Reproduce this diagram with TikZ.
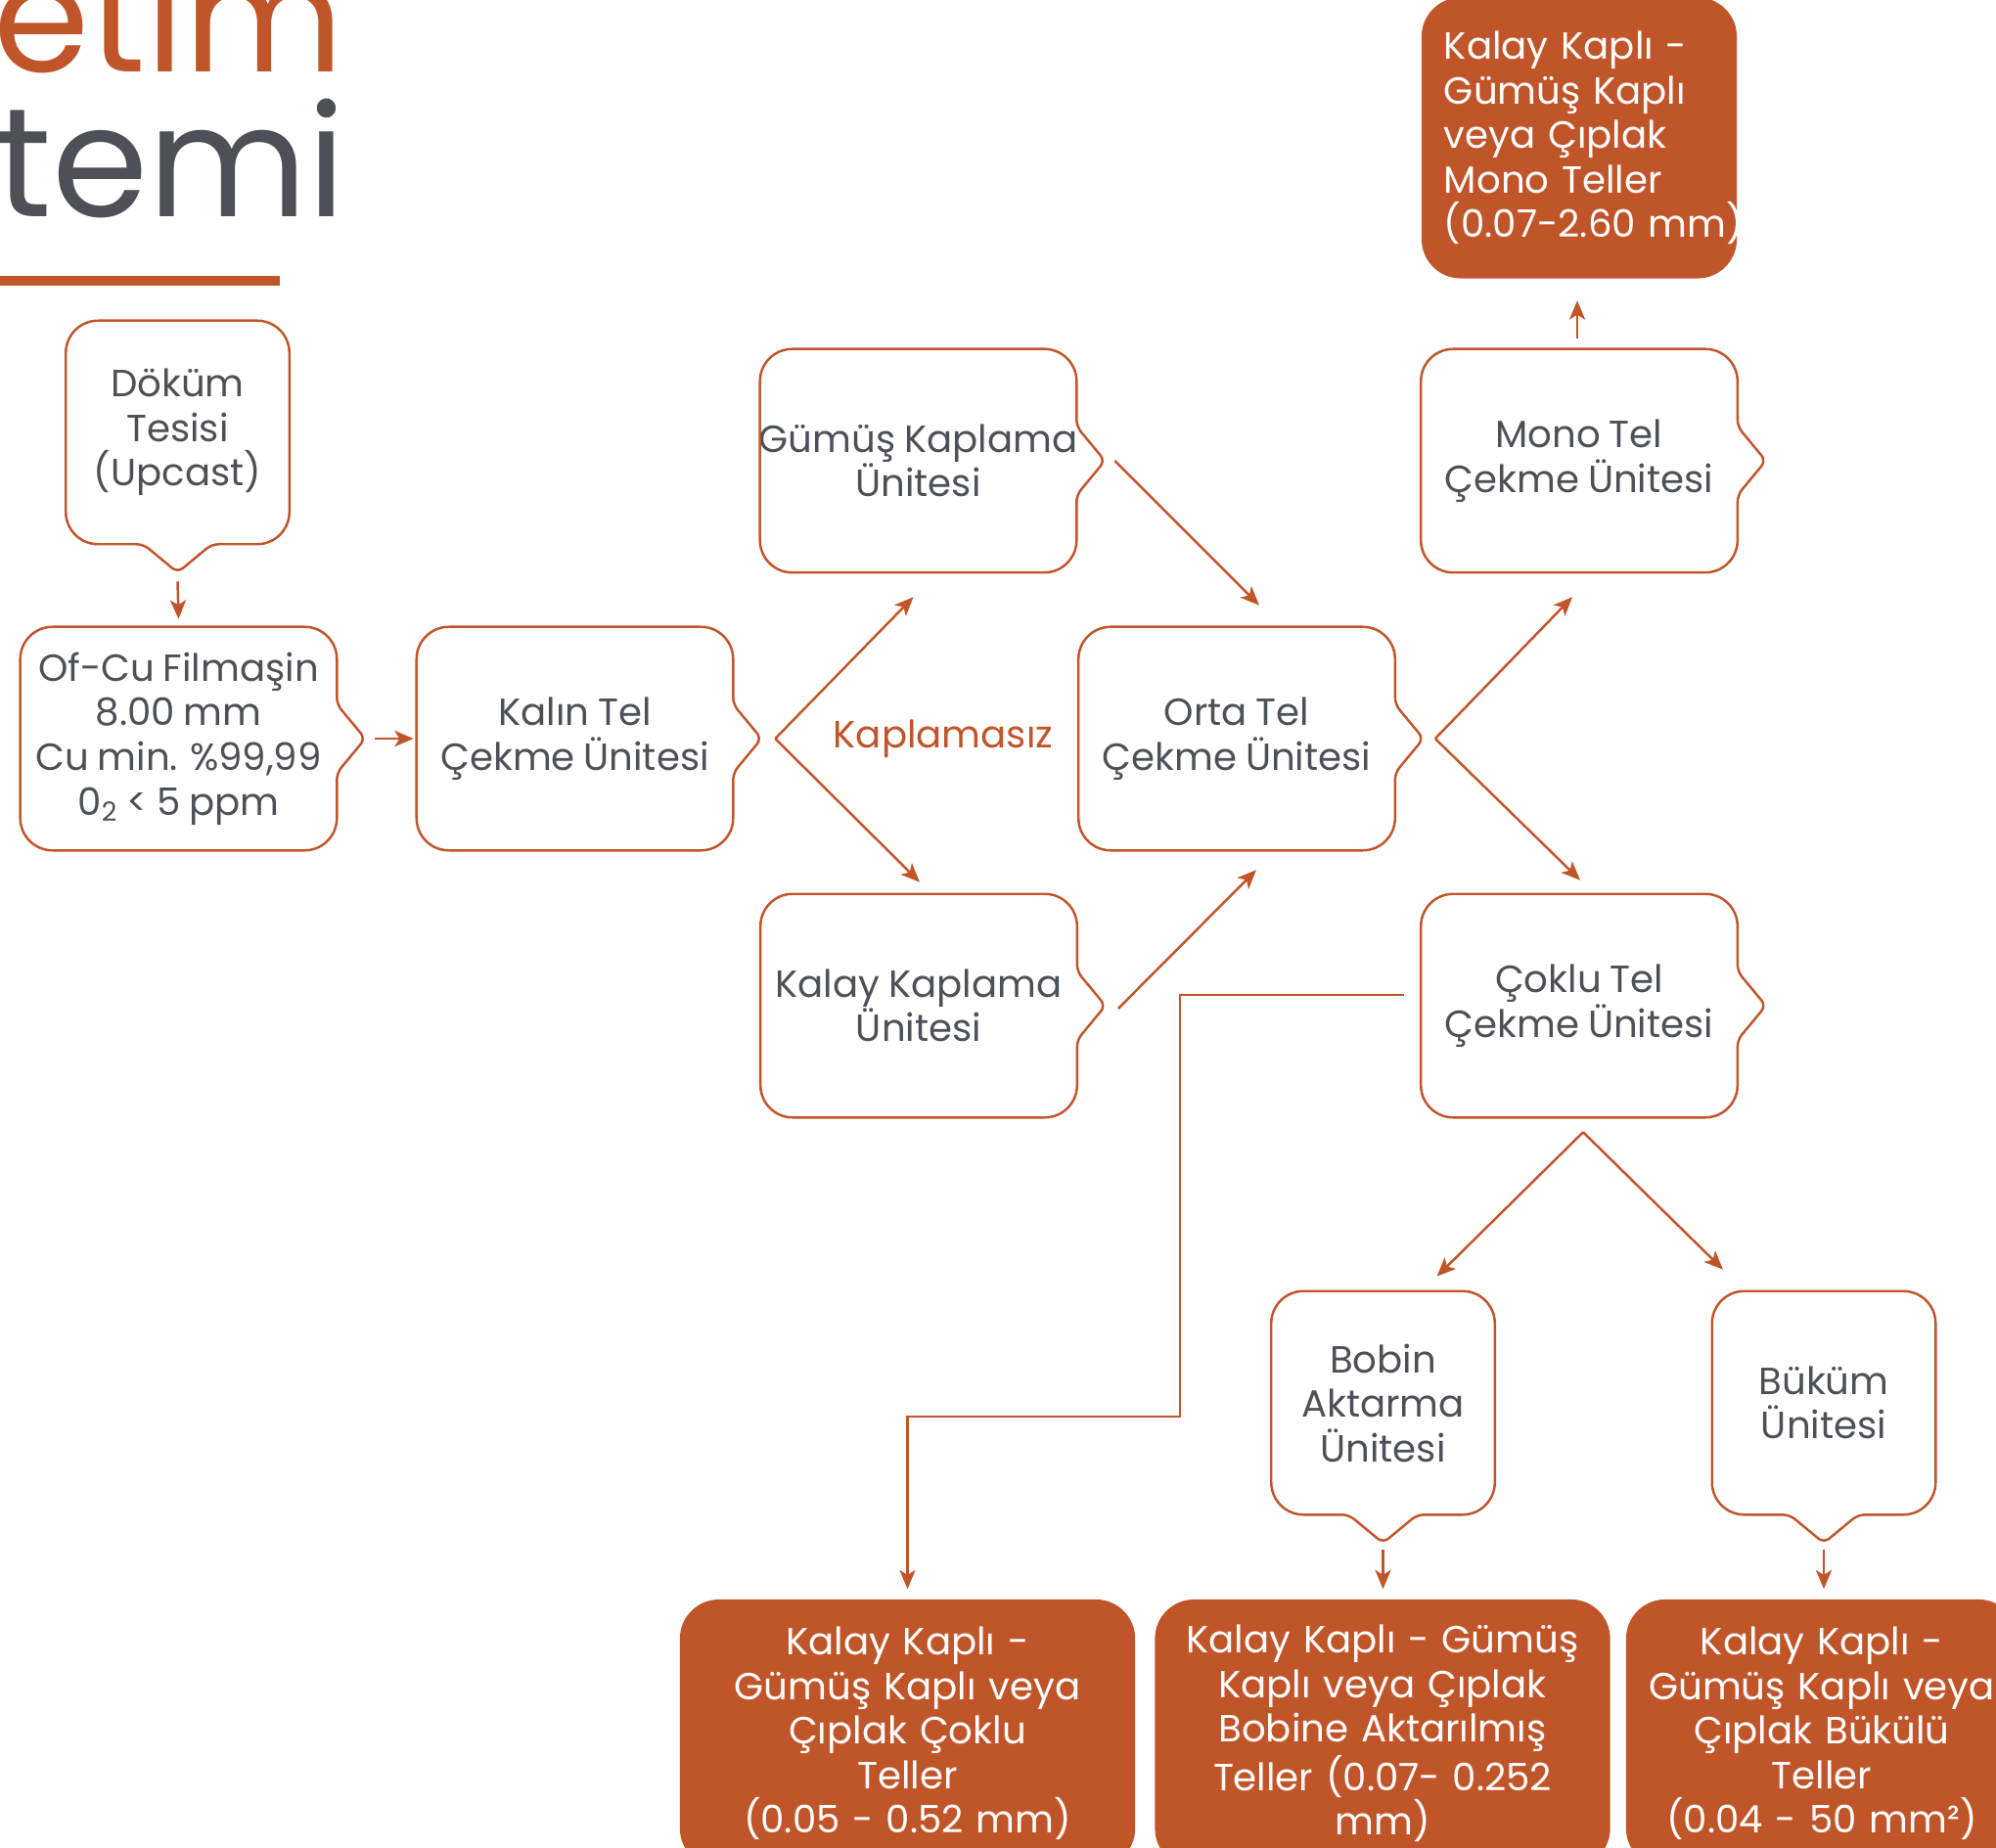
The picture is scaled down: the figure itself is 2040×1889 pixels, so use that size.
\documentclass[tikz,border=0pt]{standalone}
\usepackage{fontspec}
\setmainfont{Poppins}[WordSpace=0.85]
\usetikzlibrary{positioning,arrows.meta}
\definecolor{rust}{HTML}{C1552A}
\definecolor{slate}{HTML}{4D5157}
\newcommand\unitfont{\fontsize{11pt}{12.95pt}\selectfont}
\newcommand\titlefont{\fontsize{45pt}{45pt}\selectfont}
\tikzset{
    >={Stealth[length=5.5pt,width=4.6pt,inset=1.4pt]},
    unit/.style = {minimum width=3.22cm, minimum height=2.27cm, inner sep=0pt,
        align=center, text=slate, font=\unitfont},
    narrow/.style = {unit, minimum width=2.27cm},
    frame/.style = {draw=rust, line width=0.7pt, rounded corners=0.33cm},
    product/.style = {fill=rust, rounded corners=0.4cm, text=white,
        font=\unitfont, inner ysep=0pt, inner xsep=0.225cm},
    flow/.style = {draw=rust, line width=0.7pt, ->},
}

\begin{document}
\begin{tikzpicture}[x=0.01cm, y=-0.01cm]
    \useasboundingbox (0,0) rectangle (2040,1889);

    \node[anchor=base east, text=rust, font=\titlefont, inner sep=0pt] (titletop) at (352,74) {etim};
    \node[anchor=base east, text=slate, font=\titlefont, inner sep=0pt] (titlebot) at (354,222) {temi};
    \fill[rust] (0,282) rectangle (286,292);

    \node[narrow] (dokum) at (181.5,442) {Döküm\\Tesisi\\(Upcast)};
    \node[unit] (ofcu) at (182.5,755) {Of-Cu Filmaşin\\8.00 mm\\Cu min. \%99,99\\0\textsubscript{2} < 5 ppm};
    \node[unit] (kalin) at (587.5,755) {Kalın Tel\\Çekme Ünitesi};
    \node[unit] (gumus) at (938.5,471) {\makebox[3.22cm]{Gümüş Kaplama}\\Ünitesi};
    \node[unit] (kalay) at (939,1028) {\makebox[3.22cm]{Kalay Kaplama}\\Ünitesi};
    \node[unit] (orta) at (1264,755) {Orta Tel\\Çekme Ünitesi};
    \node[unit] (mono) at (1614,471) {Mono Tel\\Çekme Ünitesi};
    \node[unit] (coklu) at (1614,1028) {Çoklu Tel\\Çekme Ünitesi};
    \node[narrow] (bobin) at (1413.5,1434) {Bobin\\Aktarma\\Ünitesi};
    \node[narrow] (bukum) at (1864,1434) {Büküm\\Ünitesi};

    \node[text=rust, font=\unitfont] (bare) at (964,755) {Kaplamasız};

    \foreach \n in {ofcu,kalin,gumus,kalay,orta,mono,coklu}
        \draw[frame] (\n.north) -- (\n.north east) [rounded corners=2pt] -- ([shift={(0,-35)}]\n.east)
            -- ++(29,35) -- ++(-29,35)
            [rounded corners=0.33cm] -- (\n.south east) -- (\n.south west) -- (\n.north west) -- cycle;
    \foreach \n in {dokum,bobin,bukum}
        \draw[frame] (\n.north) -- (\n.north east) -- (\n.south east) [rounded corners=2pt] -- ([shift={(35,0)}]\n.south)
            -- ++(-35,29) -- ++(-35,-29)
            [rounded corners=0.33cm] -- (\n.south west) -- (\n.north west) -- cycle;

    \node[product, align=left, text width=2.76cm, inner xsep=0.23cm, minimum height=2.87cm] (monoout) at (1614,141)
        {Kalay Kaplı -\\Gümüş Kaplı\\veya Çıplak\\Mono Teller\\\mbox{(0.07-2.60 mm)}};
    \node[product, align=center, text width=4.2cm, minimum height=2.74cm] (cokluout) at (927.5,1772)
        {Kalay Kaplı -\\Gümüş Kaplı veya\\Çıplak Çoklu\\Teller\\(0.05 - 0.52 mm)};
    \node[product, align=center, text width=4.2cm, minimum height=2.74cm] (bobinout) at (1413,1772)
        {Kalay Kaplı - Gümüş\\Kaplı veya Çıplak\\Bobine Aktarılmış\\Teller (0.07- 0.252\\mm)};
    \node[product, align=center, text width=3.9cm, inner xsep=0.05cm, minimum height=2.74cm] (bukumout) at (1862,1772)
        {Kalay Kaplı -\\Gümüş Kaplı veya\\Çıplak Bükülü\\Teller\\(0.04 - 50 mm²)};

    \coordinate (split1) at ([shift={(43,0)}]kalin.east);
    \coordinate (split2) at ([shift={(41,0)}]orta.east);
    \coordinate (split3) at ([shift={(4,15)}]coklu.south);

    \draw[flow] ([shift={(0,38)}]dokum.south) -- ([shift={(0,-8)}]ofcu.north);
    \draw[flow] ([shift={(39,0)}]ofcu.east) -- ([shift={(-3,0)}]kalin.west);
    \draw[flow] (split1) -- ([shift={(-5,25)}]gumus.south);
    \draw[flow] (split1) -- ([shift={(1,-12)}]kalay.north);
    \draw[flow] ([shift={(39,0)}]gumus.east) -- ([shift={(23,-22)}]orta.north);
    \draw[flow] ([shift={(42,3)}]kalay.east) -- ([shift={(20,20)}]orta.south);
    \draw[flow] (split2) -- ([shift={(-7,25)}]mono.south);
    \draw[flow] (split2) -- ([shift={(1,-14)}]coklu.north);
    \draw[flow] ([shift={(-2,-11)}]mono.north) -- ([shift={(-2,22)}]monoout.south);
    \draw[flow] (split3) -- ([shift={(55,-15)}]bobin.north);
    \draw[flow] (split3) -- ([shift={(-103,-22)}]bukum.north);
    \draw[flow] ([shift={(-17,-11)}]coklu.west) -- (1206,1017) -- (1206,1448)
        -| ([shift={(0,-10)}]cokluout.north);
    \draw[flow] ([shift={(0,36)}]bobin.south) -- ([shift={(0.5,-10)}]bobinout.north);
    \draw[flow] ([shift={(0,36)}]bukum.south) -- ([shift={(2,-10)}]bukumout.north);
\end{tikzpicture}
\end{document}
